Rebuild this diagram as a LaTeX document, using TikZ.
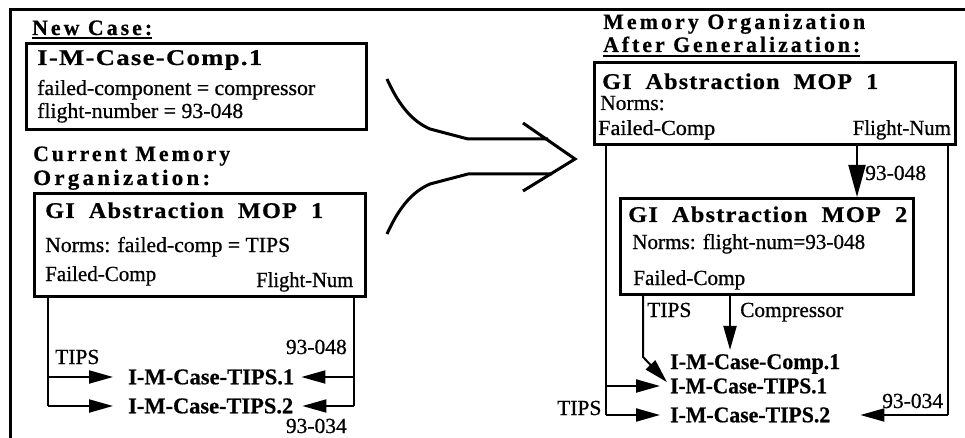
\documentclass[tikz,border=0pt]{standalone}
\usepackage{graphicx}
\usepackage{fontspec}
\setmainfont{Liberation Serif}[FakeBold=0.7]
\newfontfamily\hdfont[LetterSpace=14,BoldFeatures={FakeBold=0.6}]{Liberation Serif}
\newfontfamily\ttfontx[LetterSpace=5,BoldFeatures={FakeBold=0.6}]{Liberation Serif}
\newfontfamily\itmfont[BoldFeatures={FakeBold=0.6}]{Liberation Serif}
\newcommand\fitw[2]{\resizebox{#1}{\height}{#2}}
\newcommand\wg{\hspace{13pt}}
\usetikzlibrary{arrows.meta}
\tikzset{
  txt/.style={inner sep=0pt, font=\fontsize{21.5}{23}\selectfont},
  hd/.style={inner sep=0pt, font=\hdfont\bfseries\fontsize{22}{24}\selectfont},
  ttl/.style={inner sep=0pt, font=\ttfontx\bfseries\fontsize{22.5}{24}\selectfont},
  itm/.style={inner sep=0pt, font=\itmfont\bfseries\fontsize{22.5}{24}\selectfont},
  box/.style={draw, line width=2.6pt, inner sep=0pt, anchor=north west},
  ln/.style={line width=2pt},
  arr/.style={line width=2pt, -{Triangle[length=24pt,width=13pt]}},
  bigarr/.style={line width=2pt, -{Triangle[length=32pt,width=17pt]}},
  ul/.style={line width=1.6pt},
}
\begin{document}
\begin{tikzpicture}[x=1pt,y=-1pt]
\useasboundingbox (0,0) rectangle (965,438);
% outer frame
\draw[line width=3pt] (10,438) -- (10,10) -- (965,10);

% ---------- left panel ----------
\node[hd, anchor=base west] (nc) at (32,35) {\fitw{120pt}{New Case:}};
\draw[ul] ([yshift=-3pt]nc.base west) -- ([yshift=-3pt]nc.base east);
\node[box, minimum width=340pt, minimum height=86pt] (nb) at (25,42) {};
\node[ttl, anchor=base west] (nbt) at (37,65) {\fitw{225pt}{I-M-Case-Comp.1}};
\node[txt, anchor=base west] (nb1) at (37,95) {\fitw{278pt}{failed-component = compressor}};
\node[txt, anchor=base west] (nb2) at (37,118) {\fitw{206pt}{flight-number = 93-048}};

\node[hd, anchor=base west] (cm1) at (33,161) {\fitw{197pt}{Current Memory}};
\node[hd, anchor=base west] (cm2) at (33,185) {\fitw{177pt}{Organization:}};
\node[box, minimum width=331pt, minimum height=103pt] (mb) at (33,192) {};
\node[ttl, anchor=base west] (mbt) at (45,218) {\fitw{278pt}{GI\wg Abstraction\wg MOP\wg 1}};
\node[txt, anchor=base west] (mbn) at (45,252) {\fitw{245pt}{Norms: failed-comp = TIPS}};
\node[txt, anchor=base west] (mbf) at (45,281) {\fitw{111pt}{Failed-Comp}};
\node[txt, anchor=base west] (mbg) at (256,287) {\fitw{97pt}{Flight-Num}};

\node[itm, anchor=west] (tL1) at (128,377) {\fitw{166pt}{I-M-Case-TIPS.1}};
\node[itm, anchor=west] (tL2) at (128,406) {\fitw{165pt}{I-M-Case-TIPS.2}};
\node[txt, anchor=base west] (lt) at (55,364) {TIPS};
\node[txt, anchor=base east] (l48) at (347,354) {93-048};
\node[txt, anchor=base east] (l34) at (347,433) {93-034};

\coordinate (lxL) at (48,0);
\coordinate (rxL) at (354,0);
\draw[ln] (lxL |- mb.south) -- (lxL |- tL2);
\draw[arr, shorten >=15pt] (lxL |- tL1) -- (tL1.west);
\draw[arr, shorten >=15pt] (lxL |- tL2) -- (tL2.west);
\draw[ln] (rxL |- mb.south) -- (rxL |- tL2);
\draw[arr, shorten >=7pt] (rxL |- tL1) -- (tL1.east);
\draw[arr, shorten >=9pt] (rxL |- tL2) -- (tL2.east);

% ---------- big transition arrow ----------
\draw[line width=3pt, line join=round]
  (387,79) .. controls (400,108) and (414,122) .. (430,129) -- (468,139) -- (548,139);
\draw[line width=3pt, line join=round]
  (387,234) .. controls (400,205) and (414,191) .. (430,184) -- (468,174) -- (552,174);
\draw[line width=3pt, line join=miter] (523,123) -- (575,159) -- (523,191);

% ---------- right panel ----------
\node[hd, anchor=base west] (mo1) at (603,29) {\fitw{262pt}{Memory Organization}};
\node[hd, anchor=base west] (mo2) at (603,52) {\fitw{257pt}{After Generalization:}};
\draw[ul] ([yshift=-4pt]mo2.base west) -- ([yshift=-4pt]mo2.base east);

\node[box, minimum width=361pt, minimum height=82pt] (r1) at (593,61) {};
\node[ttl, anchor=base west] (r1t) at (602,89) {\fitw{276pt}{GI\wg Abstraction\wg MOP\wg 1}};
\node[txt, anchor=base west] (r1n) at (600,110) {Norms:};
\node[txt, anchor=base west] (r1f) at (598,135) {\fitw{117pt}{Failed-Comp}};
\node[txt, anchor=base east] (r1g) at (951,135) {\fitw{98pt}{Flight-Num}};

\node[box, minimum width=293pt, minimum height=96pt] (r2) at (619,197) {};
\node[ttl, anchor=base west] (r2t) at (628,222) {\fitw{279pt}{GI\wg Abstraction\wg MOP\wg 2}};
\node[txt, anchor=base west] (r2n) at (632,249) {\fitw{233pt}{Norms: flight-num=93-048}};
\node[txt, anchor=base west] (r2f) at (633,285) {\fitw{112pt}{Failed-Comp}};

\node[txt, anchor=base west] (r48) at (865,180) {93-048};
\node[txt, anchor=base west] (rt) at (647,317) {TIPS};
\node[txt, anchor=base west] (rc) at (740,317) {\fitw{103pt}{Compressor}};

\node[itm, anchor=west] (cR) at (670,364) {\fitw{170pt}{I-M-Case-Comp.1}};
\node[itm, anchor=west] (tR1) at (670,386) {\fitw{157pt}{I-M-Case-TIPS.1}};
\node[itm, anchor=west] (tR2) at (670,415) {\fitw{160pt}{I-M-Case-TIPS.2}};
\node[txt, anchor=base west] (rlt) at (557,415) {TIPS};
\node[txt, anchor=base west] (r34) at (882,408) {93-034};

\coordinate (lxR) at (606,0);
\coordinate (rxR) at (948,0);
\coordinate (mxR) at (857,0);
\coordinate (txR) at (643,0);
\coordinate (cxR) at (730,0);
\coordinate (bendR) at (643,357);

\draw[ln] (lxR |- r1.south) -- (lxR |- tR2);
\draw[arr, shorten >=10pt] (lxR |- tR1) -- (tR1.west);
\draw[arr, shorten >=10pt] (lxR |- tR2) -- (tR2.west);
\draw[ln] (rxR |- r1.south) -- (rxR |- tR2);
\draw[arr, shorten >=30pt] (rxR |- tR2) -- (tR2.east);
\draw[bigarr] (mxR |- r1.south) -- (mxR |- r2.north);
\draw[arr, line join=round] (txR |- r2.south) -- (bendR) -- ([shift={(-3pt,-4pt)}]tR1.north west);
\draw[arr, shorten >=4pt] (cxR |- r2.south) -- (cxR |- cR.north);
\end{tikzpicture}
\end{document}
